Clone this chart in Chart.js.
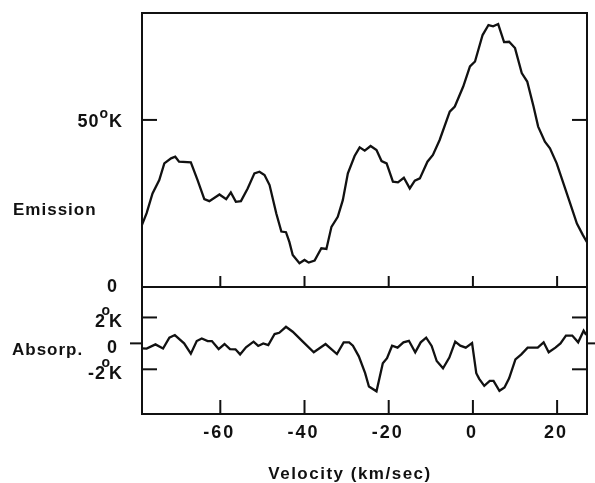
<!DOCTYPE html>
<html>
<head>
<meta charset="utf-8">
<script src="https://cdn.jsdelivr.net/npm/chart.js@4.4.0/dist/chart.umd.min.js"></script>
<style>
  html, body { margin: 0; padding: 0; background: #fff; }
  #wrap { position: relative; width: 595px; height: 483px; }
  #wrap canvas { position: absolute; left: 0; top: 0; }
</style>
</head>
<body>
<div id="wrap">
  <canvas id="emission" width="595" height="483"></canvas>
  <canvas id="absorption" width="595" height="483"></canvas>
</div>
<script>
// Emission profile (brightness temperature, K) vs velocity (km/sec)
const emisVel = [-78.6, -77.5, -76.1, -74.5, -73.3, -71.7, -70.7, -69.8, -67.0, -65.4,
  -63.8, -62.6, -60.2, -58.6, -57.5, -56.3, -55.1, -53.5, -51.9, -50.7,
  -49.5, -48.3, -46.7, -45.5, -44.4, -43.6, -42.8, -41.2, -40.0, -39.0,
  -37.6, -36.0, -34.8, -33.6, -32.1, -30.9, -29.7, -28.1, -26.9, -25.7,
  -24.3, -22.9, -21.7, -20.5, -19.0, -17.8, -16.4, -15.0, -13.8, -12.6,
  -10.8, -9.5, -7.9, -5.5, -4.3, -2.3, -0.7, 0.5, 2.3, 3.7,
  4.8, 6.0, 7.4, 8.6, 10.0, 11.6, 12.9, 14.4, 15.5, 17.1,
  18.3, 19.9, 21.5, 23.1, 24.7, 26.1, 27.1];
const emisTemp = [18.6, 22.1, 28, 32, 37, 38.5, 39, 37.5, 37.3, 32,
  26.3, 25.7, 27.7, 26.3, 28.3, 25.5, 25.7, 29.5, 34, 34.5,
  33.5, 30.5, 22, 16.6, 16.4, 13.5, 9.6, 7.1, 8.1, 7.3,
  7.9, 11.6, 11.4, 18, 21, 26, 34, 39.2, 41.8, 40.8,
  42.2, 41, 37.7, 37, 31.5, 31.3, 32.7, 29.5, 31.8, 32.5,
  37.5, 39.5, 44, 52.5, 54, 60, 66, 67.5, 75.4, 78.4,
  78, 78.7, 73.3, 73.4, 71.5, 64, 61.5, 54, 48, 43.5,
  41.5, 37, 31, 25, 19, 15.6, 13.4];

// Absorption profile (K) vs velocity (km/sec)
const absVel = [-78.6, -77.5, -75.4, -73.6, -72.1, -70.8, -68.6, -67.0, -65.6, -64.4,
  -63.0, -62.0, -60.4, -59.0, -57.7, -56.4, -55.3, -53.9, -52.1, -51.0,
  -49.8, -48.6, -47.1, -46.0, -44.4, -42.8, -40.4, -37.8, -35.0, -32.3,
  -30.7, -29.4, -28.5, -27.1, -25.6, -24.7, -22.9, -21.4, -20.4, -19.2,
  -17.9, -16.5, -15.2, -13.7, -12.4, -11.1, -9.8, -8.6, -7.1, -5.6,
  -4.2, -3.0, -1.7, -0.2, 0.8, 1.5, 2.7, 4.0, 4.9, 6.3,
  7.5, 8.6, 10.1, 11.5, 13.0, 15.4, 16.8, 18.0, 19.6, 20.8,
  22.1, 23.6, 25.0, 26.3, 26.9];
const absTemp = [-0.38, -0.4, -0.08, -0.4, 0.44, 0.64, 0, -0.8, 0.18, 0.38,
  0.18, 0.18, -0.44, -0.05, -0.44, -0.46, -0.85, -0.3, 0.13, -0.2,
  0, -0.13, 0.72, 0.82, 1.28, 0.9, 0.13, -0.69, -0.05, -0.82,
  0.08, 0.08, -0.18, -1.0, -2.3, -3.33, -3.7, -1.54, -1.15, -0.18,
  -0.33, 0.08, 0.2, -0.69, 0.08, 0.44, -0.2, -1.36, -1.92, -1.1,
  0.13, -0.18, -0.33, 0.03, -2.3, -2.74, -3.28, -2.9, -2.9, -3.66,
  -3.4, -2.7, -1.23, -0.85, -0.33, -0.33, 0.08, -0.69, -0.33, 0,
  0.6, 0.6, 0.08, 0.98, 0.65];

// Axis ranges and ticks
const velRange = [-78.6, 27.1];
const velTicks = [-60, -40, -20, 0, 20];
const emisRange = [0, 82];
const absRange = [-5.45, 4.35];

const FONT = '"Liberation Sans", Arial, sans-serif';
const INK = '#111';

function line(ctx, x1, y1, x2, y2) {
  ctx.beginPath();
  ctx.moveTo(x1, y1);
  ctx.lineTo(x2, y2);
  ctx.stroke();
}

function setFont(ctx, size, spacing) {
  ctx.font = `bold ${size}px ${FONT}`;
  ctx.letterSpacing = spacing || '0px';
}

// Draws "NN°K" with a small raised o; right edge of K at `right`
function degLabel(ctx, num, right, cy, over) {
  ctx.textBaseline = 'middle';
  ctx.textAlign = 'left';
  setFont(ctx, 18, '1px');
  const kW = ctx.measureText('K').width;
  const kLeft = right - kW;
  ctx.fillText('K', kLeft, cy);
  setFont(ctx, 14);
  const oW = ctx.measureText('o').width;
  const oLeft = over ? kLeft - oW + 1 : kLeft - oW - 1;
  ctx.fillText('o', oLeft, cy - (over ? 11 : 8));
  setFont(ctx, 18, '1px');
  ctx.textAlign = 'right';
  ctx.fillText(num, over ? kLeft - 3 : oLeft, cy);
}

const emissionFrame = {
  id: 'emissionFrame',
  afterDraw(chart) {
    const { ctx, chartArea: a, scales: { x, y } } = chart;
    ctx.save();
    ctx.strokeStyle = INK;
    ctx.fillStyle = INK;
    ctx.lineWidth = 2;
    ctx.strokeRect(a.left, a.top, a.right - a.left, a.bottom - a.top);
    // velocity ticks pointing up from the panel floor
    velTicks.forEach(v => {
      const px = x.getPixelForValue(v);
      line(ctx, px, a.bottom, px, a.bottom - 11);
    });
    const y50 = y.getPixelForValue(50);
    line(ctx, a.left, y50, a.left + 15, y50);
    line(ctx, a.right - 15, y50, a.right, y50);

    degLabel(ctx, '50', 123, y50 + 2, false);
    setFont(ctx, 18, '1px');
    ctx.textAlign = 'right';
    ctx.textBaseline = 'middle';
    ctx.fillText('0', 118, y.getPixelForValue(0));
    setFont(ctx, 17, '1px');
    ctx.textAlign = 'left';
    ctx.fillText('Emission', 13, 210);
    ctx.restore();
  }
};

const absorptionFrame = {
  id: 'absorptionFrame',
  afterDraw(chart) {
    const { ctx, chartArea: a, scales: { x, y } } = chart;
    ctx.save();
    ctx.strokeStyle = INK;
    ctx.fillStyle = INK;
    ctx.lineWidth = 2;
    ctx.strokeRect(a.left, a.top, a.right - a.left, a.bottom - a.top);
    velTicks.forEach(v => {
      const px = x.getPixelForValue(v);
      line(ctx, px, a.bottom, px, a.bottom - 14);
    });
    const y2 = y.getPixelForValue(2);
    const y0 = y.getPixelForValue(0);
    const yM2 = y.getPixelForValue(-2);
    [y2, yM2].forEach(py => {
      line(ctx, a.left, py, a.left + 15, py);
      line(ctx, a.right - 15, py, a.right, py);
    });
    // zero marks stick outward
    line(ctx, a.left - 12, y0, a.left, y0);
    line(ctx, a.right, y0, a.right + 10, y0);

    degLabel(ctx, '2', 123, y2 + 5, true);
    degLabel(ctx, '-2', 123, yM2 + 5, true);
    setFont(ctx, 18, '1px');
    ctx.textAlign = 'right';
    ctx.textBaseline = 'middle';
    ctx.fillText('0', 118, y0 + 5);
    setFont(ctx, 17, '1px');
    ctx.textAlign = 'left';
    ctx.fillText('Absorp.', 12, 350);

    // velocity tick labels and axis title
    setFont(ctx, 18, '2px');
    ctx.textAlign = 'center';
    velTicks.forEach(v => {
      ctx.fillText(String(v), x.getPixelForValue(v) - 1, 433);
    });
    setFont(ctx, 17, '1.5px');
    ctx.fillText('Velocity (km/sec)', 350, 474);
    ctx.restore();
  }
};

function makeChart(id, vel, temp, yRange, padding, plugin) {
  return new Chart(document.getElementById(id), {
    type: 'line',
    data: {
      datasets: [{
        data: vel.map((v, i) => ({ x: v, y: temp[i] })),
        borderColor: INK,
        borderWidth: 2.3,
        pointRadius: 0,
        tension: 0,
        fill: false
      }]
    },
    options: {
      responsive: false,
      animation: false,
      devicePixelRatio: 1,
      layout: { padding },
      plugins: { legend: { display: false }, tooltip: { enabled: false } },
      scales: {
        x: { type: 'linear', min: velRange[0], max: velRange[1], display: false },
        y: { min: yRange[0], max: yRange[1], display: false }
      }
    },
    plugins: [plugin]
  });
}

makeChart('emission', emisVel, emisTemp, emisRange,
  { left: 142, right: 8, top: 13, bottom: 196 }, emissionFrame);
makeChart('absorption', absVel, absTemp, absRange,
  { left: 142, right: 8, top: 287, bottom: 69 }, absorptionFrame);
</script>
</body>
</html>
